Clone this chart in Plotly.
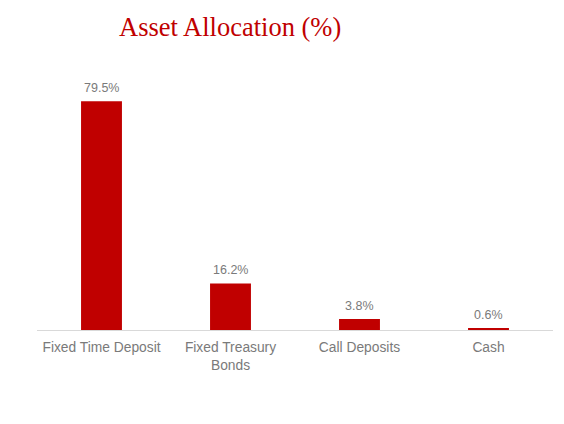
import plotly.graph_objects as go

categories = ["Fixed Time Deposit", "Fixed Treasury<br>Bonds", "Call Deposits", "Cash"]
values = [79.5, 16.2, 3.8, 0.6]
labels = ["79.5%", "16.2%", "3.8%", "0.6%"]

RED = "#C00000"
GRAY = "#7A7A7A"

fig = go.Figure()
fig.add_trace(go.Bar(
    x=categories, y=values, marker=dict(color=RED, line=dict(width=0)),
    width=0.317, hoverinfo="skip",
))
for c, v, t in zip(categories, values, labels):
    fig.add_annotation(x=c, y=v, text=t, showarrow=False, yanchor="bottom",
                       yshift=4, font=dict(family="Liberation Sans, Arial", size=12.5, color=GRAY))

fig.add_annotation(xref="paper", yref="paper", x=(230 - 37) / 516, y=1,
                   yshift=44, yanchor="middle", xanchor="center", showarrow=False,
                   text="Asset Allocation (%)",
                   font=dict(family="Liberation Serif, DejaVu Serif, serif", size=26.5, color=RED))

fig.update_layout(
    width=564, height=424,
    margin=dict(l=29, r=19, t=63, b=102),
    paper_bgcolor="white", plot_bgcolor="white",
    showlegend=False,
    xaxis=dict(showline=True, linecolor="#D9D9D9", linewidth=1, ticks="",
               tickfont=dict(family="Liberation Sans, Arial", size=13.8, color=GRAY),
               ticklabelstandoff=4,
               showgrid=False, zeroline=False),
    yaxis=dict(range=[0, 90], visible=False, showgrid=False, zeroline=False),
    bargap=0.683,
)
fig.write_html("out.html")
